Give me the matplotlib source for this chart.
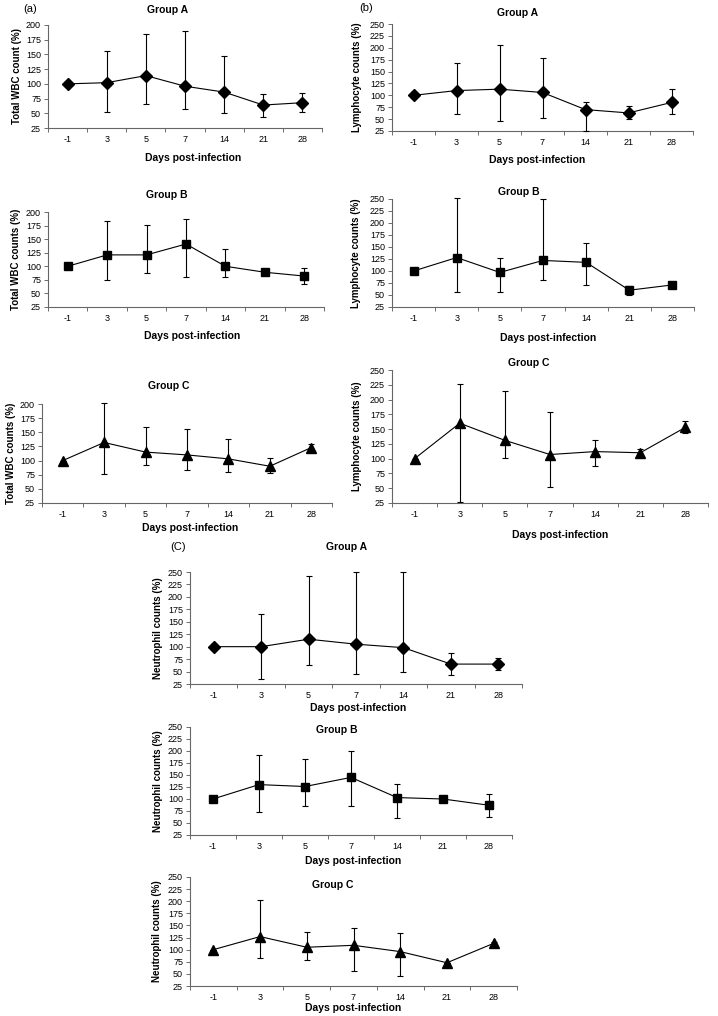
import matplotlib
matplotlib.use("Agg")
import matplotlib.pyplot as plt
from matplotlib.ticker import MultipleLocator

plt.rcParams['font.family'] = ['Liberation Sans', 'DejaVu Sans']

# x categories (days post-infection)
days = ['-1', '3', '5', '7', '14', '21', '28']

# (a) total WBC counts (%), mean / upper / lower bar ends
wbc_A = [100, 102, 114, 96, 86, 64, 68]
wbc_A_hi = [100, 155, 184, 189, 148, 83, 84]
wbc_A_lo = [100, 52, 66, 58, 50, 44, 53]

wbc_B = [100, 121, 121, 141, 100, 89, 82]
wbc_B_hi = [100, 184, 176, 188, 131, 89, 97]
wbc_B_lo = [100, 75, 88, 80, 81, 89, 68]

wbc_C = [100, 132, 115, 110, 103, 90, 123]
wbc_C_hi = [100, 202, 160, 156, 138, 104, 129]
wbc_C_lo = [100, 76, 92, 83, 79, 78, 117]

# (b) lymphocyte counts (%)
lym_A = [100, 110, 113, 106, 70, 63, 85]
lym_A_hi = [100, 167, 206, 178, 87, 78, 113]
lym_A_lo = [100, 60, 45, 52, 25, 50, 60]

lym_B = [100, 128, 97, 122, 118, 60, 71]
lym_B_hi = [100, 252, 128, 250, 159, 68, 71]
lym_B_lo = [100, 57, 57, 81, 71, 50, 71]

lym_C = [100, 160, 131, 107, 112, 110, 153]
lym_C_hi = [100, 227, 214, 179, 131, 117, 164]
lym_C_lo = [100, 27, 101, 52, 88, 104, 143]

# (C) neutrophil counts (%)
neu_A = [100, 100, 115, 105, 98, 65, 65]
neu_A_hi = [100, 165, 241, 250, 251, 88, 77]
neu_A_lo = [100, 35, 64, 45, 49, 43, 53]

neu_B = [100, 130, 126, 145, 103, 100, 87]
neu_B_hi = [100, 192, 183, 201, 131, 103, 110]
neu_B_lo = [100, 73, 86, 86, 61, 97, 62]

neu_C = [100, 127, 105, 109, 96, 73, 113]
neu_C_hi = [100, 203, 136, 144, 134, 73, 116]
neu_C_lo = [100, 82, 78, 56, 46, 73, 110]

W, H = 718, 1016
fig = plt.figure(figsize=(W / 100, H / 100), dpi=100)


def px(x, y):
    return x / W, 1 - y / H


def panel(box, mean, hi, lo, marker, ymax, ylabel, title, title_xy, xlab_xy, ylab_x, ms=6):
    l, t, r, b = box
    ax = fig.add_axes([l / W, 1 - b / H, (r - l) / W, (b - t) / H])
    x = list(range(len(days)))
    yerr = [[m - v for m, v in zip(mean, lo)], [v - m for m, v in zip(mean, hi)]]
    ax.errorbar(x, mean, yerr=yerr, fmt='-', color='black', lw=0.8,
                elinewidth=0.8, capsize=2.2, capthick=0.8, marker=marker,
                ms=ms, mfc='black', mec='black', clip_on=False, zorder=3)
    ax.set_xlim(-0.5, len(days) - 0.5)
    ax.set_ylim(25, ymax)
    ax.yaxis.set_major_locator(MultipleLocator(25))
    ax.set_xticks(x)
    ax.set_xticklabels(days)
    ax.set_xticks([i + 0.5 for i in range(-1, len(days))], minor=True)
    ax.tick_params(axis='x', which='major', length=0, labelsize=6.5, pad=5)
    ax.tick_params(axis='x', which='minor', length=3, width=0.6, color='#555555')
    ax.tick_params(axis='y', length=3, width=0.6, color='#555555', labelsize=6.5, pad=2)
    for s in ['top', 'right']:
        ax.spines[s].set_visible(False)
    for s in ['left', 'bottom']:
        ax.spines[s].set_color('#666666')
        ax.spines[s].set_linewidth(0.8)
    fig.text(*px(*title_xy), title, ha='center', va='center', fontsize=7.5, fontweight='bold')
    fig.text(*px(*xlab_xy), 'Days post-infection', ha='center', va='center', fontsize=7.5, fontweight='bold')
    fig.text(*px(ylab_x, (t + b) / 2), ylabel, ha='center', va='center', rotation=90,
             fontsize=7, fontweight='bold')
    return ax


# column (a)
panel((48, 25, 322, 128), wbc_A, wbc_A_hi, wbc_A_lo, 'D', 200, 'Total WBC count (%)',
      'Group A', (168, 10), (193, 158), 17)
panel((48, 212, 324, 307), wbc_B, wbc_B_hi, wbc_B_lo, 's', 200, 'Total WBC counts (%)',
      'Group B', (167, 195), (192, 336), 16)
panel((42, 404, 332, 503), wbc_C, wbc_C_hi, wbc_C_lo, '^', 200, 'Total WBC counts (%)',
      'Group C', (169, 386), (190, 528), 11, ms=6.5)

# column (b)
panel((392, 24, 693, 131), lym_A, lym_A_hi, lym_A_lo, 'D', 250, 'Lymphocyte counts (%)',
      'Group A', (518, 13), (537, 160), 357)
panel((392, 199, 694, 307), lym_B, lym_B_hi, lym_B_lo, 's', 250, 'Lymphocyte counts (%)',
      'Group B', (519, 192), (548, 338), 356)
panel((392, 370, 708, 503), lym_C, lym_C_hi, lym_C_lo, '^', 250, 'Lymphocyte counts (%)',
      'Group C', (529, 363), (560, 535), 357, ms=6.5)

# block (C)
panel((190, 572, 522, 684), neu_A, neu_A_hi, neu_A_lo, 'D', 250, 'Neutrophil counts (%)',
      'Group A', (347, 547), (358, 708), 158)
panel((190, 727, 512, 835), neu_B, neu_B_hi, neu_B_lo, 's', 250, 'Neutrophil counts (%)',
      'Group B', (337, 730), (353, 861), 158)
panel((190, 877, 517, 986), neu_C, neu_C_hi, neu_C_lo, '^', 250, 'Neutrophil counts (%)',
      'Group C', (333, 885), (353, 1008), 157, ms=6.5)

fig.text(*px(30, 9), '(a)', ha='center', va='center', fontsize=8)
fig.text(*px(366, 8), '(b)', ha='center', va='center', fontsize=8)
fig.text(*px(178, 547), '(C)', ha='center', va='center', fontsize=8)

fig.savefig('out.png', dpi=100)
